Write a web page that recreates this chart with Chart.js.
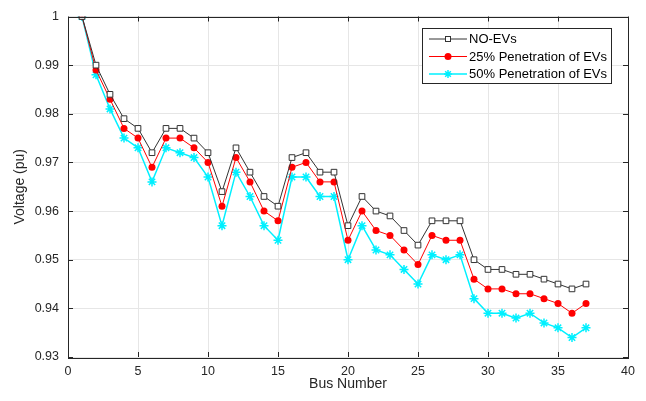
<!DOCTYPE html>
<html>
<head>
<meta charset="utf-8">
<script src="https://cdn.jsdelivr.net/npm/chart.js@4/dist/chart.umd.min.js"></script>
<style>
  body { margin: 0; background: #fff; }
  #wrap { width: 646px; height: 401px; }
</style>
</head>
<body>
<div id="wrap"><canvas id="voltChart" width="646" height="401"></canvas></div>
<script>
let busNumbers = [1,2,3,4,5,6,7,8,9,10,11,12,13,14,15,16,17,18,19,20,21,22,23,24,25,26,27,28,29,30,31,32,33,34,35,36,37];

let noEv = [1.000,0.990,0.984,0.979,0.977,0.972,0.977,0.977,0.975,0.972,0.964,0.973,0.968,0.963,0.961,0.971,0.972,0.968,0.968,0.957,0.963,0.960,0.959,0.956,0.953,0.958,0.958,0.958,0.950,0.948,0.948,0.947,0.947,0.946,0.945,0.944,0.945];
let ev25 = [1.000,0.989,0.983,0.977,0.975,0.969,0.975,0.975,0.973,0.970,0.961,0.971,0.966,0.960,0.958,0.969,0.970,0.966,0.966,0.954,0.960,0.956,0.955,0.952,0.949,0.955,0.954,0.954,0.946,0.944,0.944,0.943,0.943,0.942,0.941,0.939,0.941];
let ev50 = [1.000,0.988,0.981,0.975,0.973,0.966,0.973,0.972,0.971,0.967,0.957,0.968,0.963,0.957,0.954,0.967,0.967,0.963,0.963,0.950,0.957,0.952,0.951,0.948,0.945,0.951,0.950,0.951,0.942,0.939,0.939,0.938,0.939,0.937,0.936,0.934,0.936];

let seriesNames = ['NO-EVs', '25% Penetration of EVs', '50% Penetration of EVs'];

function toPoints(arr) {
    return busNumbers.map(function(b, i) { return {x: b, y: arr[i]}; });
}

const FONT = '"Liberation Sans", Arial, sans-serif';

// matlab style box + inward ticks
let boxPlugin = {
    id: 'box',
    afterDraw: function(chart) {
        let ctx = chart.ctx;
        let a = chart.chartArea;
        let xs = chart.scales.x, ys = chart.scales.y;
        ctx.save();
        ctx.strokeStyle = '#262626';
        ctx.lineWidth = 1;
        ctx.beginPath();
        xs.ticks.forEach(function(t) {
            let px = Math.round(xs.getPixelForValue(t.value)) + 0.5;
            ctx.moveTo(px, a.bottom); ctx.lineTo(px, a.bottom - 5);
            ctx.moveTo(px, a.top); ctx.lineTo(px, a.top + 5);
        });
        ys.ticks.forEach(function(t) {
            let py = Math.round(ys.getPixelForValue(t.value)) + 0.5;
            ctx.moveTo(a.left, py); ctx.lineTo(a.left + 5, py);
            ctx.moveTo(a.right, py); ctx.lineTo(a.right - 5, py);
        });
        ctx.stroke();
        ctx.strokeRect(Math.round(a.left) + 0.5, Math.round(a.top) + 0.5, Math.round(a.right - a.left), Math.round(a.bottom - a.top));
        ctx.restore();
    }
};

// legend box in the upper right corner
let legendPlugin = {
    id: 'legendBox',
    afterDraw: function(chart) {
        let ctx = chart.ctx;
        let bx = 422.5, by = 28.5, bw = 189, bh = 55;
        ctx.save();
        ctx.fillStyle = '#fff';
        ctx.fillRect(bx, by, bw, bh);
        ctx.strokeStyle = '#262626';
        ctx.lineWidth = 1;
        ctx.strokeRect(bx, by, bw, bh);
        ctx.font = '13px ' + FONT;
        ctx.textBaseline = 'middle';
        chart.data.datasets.forEach(function(ds, i) {
            let y = 39 + i * 17.5;
            ctx.strokeStyle = ds.borderColor;
            ctx.lineWidth = ds.borderWidth;
            ctx.beginPath();
            ctx.moveTo(429, y); ctx.lineTo(467, y);
            ctx.stroke();
            let cx = 448;
            ctx.lineWidth = 1;
            if (ds.pointStyle === 'rect') {
                ctx.fillStyle = '#fff';
                ctx.fillRect(cx - 3, y - 3, 6, 6);
                ctx.strokeStyle = ds.pointBorderColor;
                ctx.strokeRect(cx - 2.5, y - 2.5, 5, 5);
            } else if (ds.pointStyle === 'circle') {
                ctx.fillStyle = ds.pointBackgroundColor;
                ctx.beginPath();
                ctx.arc(cx, y, 3.5, 0, Math.PI * 2);
                ctx.fill();
            } else {
                ctx.strokeStyle = ds.pointBorderColor;
                ctx.lineWidth = 1.5;
                ctx.beginPath();
                for (let k = 0; k < 4; k++) {
                    let ang = k * Math.PI / 4;
                    ctx.moveTo(cx - 4 * Math.cos(ang), y - 4 * Math.sin(ang));
                    ctx.lineTo(cx + 4 * Math.cos(ang), y + 4 * Math.sin(ang));
                }
                ctx.stroke();
            }
            ctx.fillStyle = '#000';
            ctx.fillText(ds.label, 469, y + 0.5);
        });
        ctx.restore();
    }
};

let ctx = document.querySelector('#voltChart').getContext('2d');

let voltChart = new Chart(ctx, {
    type: 'line',
    data: {
        datasets: [{
            label: seriesNames[0],
            data: toPoints(noEv),
            borderColor: '#333333',
            borderWidth: 1,
            pointStyle: 'rect',
            pointRadius: 4,
            pointBorderWidth: 1,
            pointBorderColor: '#333333',
            pointBackgroundColor: '#ffffff'
        }, {
            label: seriesNames[1],
            data: toPoints(ev25),
            borderColor: '#ff0000',
            borderWidth: 1,
            pointStyle: 'circle',
            pointRadius: 3.5,
            pointBorderWidth: 0,
            pointBorderColor: '#ff0000',
            pointBackgroundColor: '#ff0000'
        }, {
            label: seriesNames[2],
            data: toPoints(ev50),
            borderColor: '#00f0ff',
            borderWidth: 1.5,
            pointStyle: 'star',
            pointRadius: 4.5,
            pointBorderWidth: 1.5,
            pointBorderColor: '#00f0ff',
            pointBackgroundColor: '#00f0ff'
        }]
    },
    options: {
        responsive: false,
        animation: false,
        layout: { padding: { top: 14, right: 18, left: 0, bottom: 0 } },
        plugins: {
            legend: { display: false },
            tooltip: { enabled: false }
        },
        scales: {
            x: {
                type: 'linear',
                min: 0, max: 40,
                afterFit: function(s) { s.height = 44; },
                ticks: { stepSize: 5, padding: 7, color: '#262626', font: { family: FONT, size: 12.5 }, maxRotation: 0 },
                grid: { color: '#e6e6e6', drawTicks: false },
                border: { display: false },
                title: { display: true, text: 'Bus Number', color: '#262626', font: { family: FONT, size: 14 }, padding: { top: 0, bottom: 8 } }
            },
            y: {
                min: 0.93, max: 1,
                afterFit: function(s) { s.width = 68; },
                ticks: {
                    stepSize: 0.01, padding: 9, color: '#262626',
                    font: { family: FONT, size: 12.5 },
                    callback: function(v) { return String(+v.toFixed(2)); }
                },
                grid: { color: '#e6e6e6', drawTicks: false },
                border: { display: false },
                title: { display: true, text: 'Voltage (pu)', color: '#262626', font: { family: FONT, size: 14 }, padding: { top: 12, bottom: 0 } }
            }
        }
    },
    plugins: [boxPlugin, legendPlugin]
});
</script>
</body>
</html>
